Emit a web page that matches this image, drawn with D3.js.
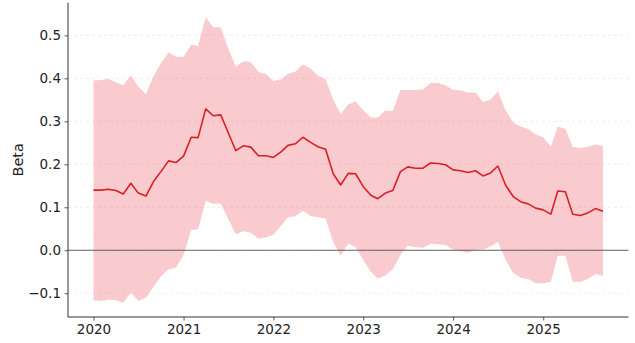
<!DOCTYPE html>
<html>
<head>
<meta charset="utf-8">
<script src="https://cdn.jsdelivr.net/npm/d3@7"></script>
<style>
  html, body { margin: 0; padding: 0; background: #fff; }
  svg { display: block; }
  text { font-family: "DejaVu Sans", sans-serif; }
</style>
</head>
<body>
<svg id="chart" width="635" height="343"></svg>
<script>
// Monthly series, Jan 2020 .. Sep 2025
const startYear = 2020;
const startMonth = 0;
const beta = [
  0.140, 0.140, 0.142, 0.139, 0.131, 0.156, 0.133, 0.126, 0.160, 0.183,
  0.208, 0.204, 0.219, 0.263, 0.262, 0.329, 0.313, 0.315, 0.274, 0.232,
  0.243, 0.240, 0.220, 0.220, 0.216, 0.229, 0.244, 0.248, 0.263, 0.251,
  0.241, 0.235, 0.178, 0.152, 0.179, 0.178, 0.148, 0.128, 0.120, 0.133,
  0.139, 0.183, 0.194, 0.191, 0.191, 0.203, 0.202, 0.199, 0.187, 0.185,
  0.181, 0.185, 0.173, 0.180, 0.196, 0.152, 0.125, 0.113, 0.108, 0.098,
  0.094, 0.084, 0.138, 0.136, 0.084, 0.081, 0.087, 0.097, 0.091
];
const upper = [
  0.395, 0.396, 0.399, 0.391, 0.384, 0.407, 0.381, 0.363, 0.405, 0.435,
  0.460, 0.450, 0.450, 0.478, 0.475, 0.543, 0.519, 0.519, 0.470, 0.427,
  0.440, 0.438, 0.415, 0.410, 0.394, 0.398, 0.411, 0.416, 0.432, 0.423,
  0.406, 0.398, 0.350, 0.317, 0.340, 0.346, 0.326, 0.309, 0.309, 0.325,
  0.324, 0.373, 0.373, 0.373, 0.374, 0.389, 0.389, 0.384, 0.373, 0.372,
  0.367, 0.367, 0.345, 0.351, 0.370, 0.326, 0.297, 0.288, 0.282, 0.270,
  0.263, 0.241, 0.288, 0.282, 0.240, 0.238, 0.240, 0.246, 0.243
];
const lower = [
  -0.117, -0.118, -0.115, -0.116, -0.122, -0.098, -0.118, -0.110, -0.085, -0.061,
  -0.044, -0.040, -0.011, 0.047, 0.049, 0.115, 0.108, 0.109, 0.074, 0.037,
  0.044, 0.041, 0.027, 0.030, 0.036, 0.057, 0.077, 0.079, 0.092, 0.080,
  0.077, 0.074, 0.020, -0.013, 0.016, 0.007, -0.022, -0.050, -0.066, -0.058,
  -0.044, -0.011, 0.011, 0.007, 0.006, 0.015, 0.014, 0.012, 0.001, -0.002,
  -0.006, 0.001, 0.002, 0.009, 0.020, -0.022, -0.053, -0.064, -0.067, -0.077,
  -0.077, -0.073, -0.013, -0.013, -0.073, -0.073, -0.067, -0.055, -0.060
];
const yTicks = [-0.1, 0.0, 0.1, 0.2, 0.3, 0.4, 0.5];
const xTickYears = [2020, 2021, 2022, 2023, 2024, 2025];
const yLabel = "Beta";

const data = beta.map((b, i) => ({
  date: new Date(startYear, startMonth + i, 1),
  beta: b, lo: lower[i], hi: upper[i]
}));

const svg = d3.select("#chart");
const mLeft = 68, mRight = 628.5, mTop = 2.6, mBottom = 317;

const t0 = data[0].date, t1 = data[data.length - 1].date;
const span = t1 - t0;
const x = d3.scaleTime()
  .domain([new Date(+t0 - span * 0.05), new Date(+t1 + span * 0.05)])
  .range([mLeft, mRight]);

const yMin = d3.min(lower), yMax = d3.max(upper);
const yPad = (yMax - yMin) * 0.05;
const y = d3.scaleLinear().domain([yMin - yPad, yMax + yPad]).range([mBottom, mTop]);

// grid
svg.append("g").selectAll("line").data(yTicks).join("line")
  .attr("x1", mLeft).attr("x2", mRight)
  .attr("y1", d => y(d)).attr("y2", d => y(d))
  .attr("stroke", "#b0b0b0").attr("stroke-opacity", 0.25)
  .attr("stroke-width", 0.8).attr("stroke-dasharray", "3,3");

// band
svg.append("path").datum(data)
  .attr("d", d3.area().x(d => x(d.date)).y0(d => y(d.lo)).y1(d => y(d.hi)))
  .attr("fill", "#e8404a").attr("fill-opacity", 0.27).attr("stroke", "none");

// zero line
svg.append("line")
  .attr("x1", mLeft).attr("x2", mRight)
  .attr("y1", y(0)).attr("y2", y(0))
  .attr("stroke", "#555").attr("stroke-width", 0.9);

// line
svg.append("path").datum(data)
  .attr("d", d3.line().x(d => x(d.date)).y(d => y(d.beta)))
  .attr("fill", "none").attr("stroke", "#d91f26").attr("stroke-width", 1.6)
  .attr("stroke-linejoin", "round");

// axes
const fmtY = d => (d < 0 ? "\u2212" : "") + Math.abs(d).toFixed(1);
const yAxis = svg.append("g").attr("transform", `translate(${mLeft},0)`)
  .call(d3.axisLeft(y).tickValues(yTicks).tickFormat(fmtY).tickSize(3.5).tickPadding(3.5));
const xAxis = svg.append("g").attr("transform", `translate(0,${mBottom})`)
  .call(d3.axisBottom(x).tickValues(xTickYears.map(yr => new Date(yr, 0, 1)))
    .tickFormat(d3.timeFormat("%Y")).tickSize(3.5).tickPadding(3.5));

[yAxis, xAxis].forEach(g => {
  g.select(".domain").attr("stroke", "#333").attr("stroke-width", 1);
  g.selectAll(".tick line").attr("stroke", "#333").attr("stroke-width", 0.8);
  g.selectAll(".tick text").attr("fill", "#222").style("font-size", "13.5px")
    .style("font-family", "'DejaVu Sans', sans-serif");
});
yAxis.select(".domain").attr("d", `M0,${mBottom}V${mTop}`);
xAxis.select(".domain").attr("d", `M${mLeft},0H${mRight}`);

svg.append("text")
  .attr("transform", `translate(23,${(mTop + mBottom) / 2}) rotate(-90)`)
  .attr("text-anchor", "middle")
  .style("font-size", "14.5px").attr("fill", "#222")
  .text(yLabel);
</script>
</body>
</html>
